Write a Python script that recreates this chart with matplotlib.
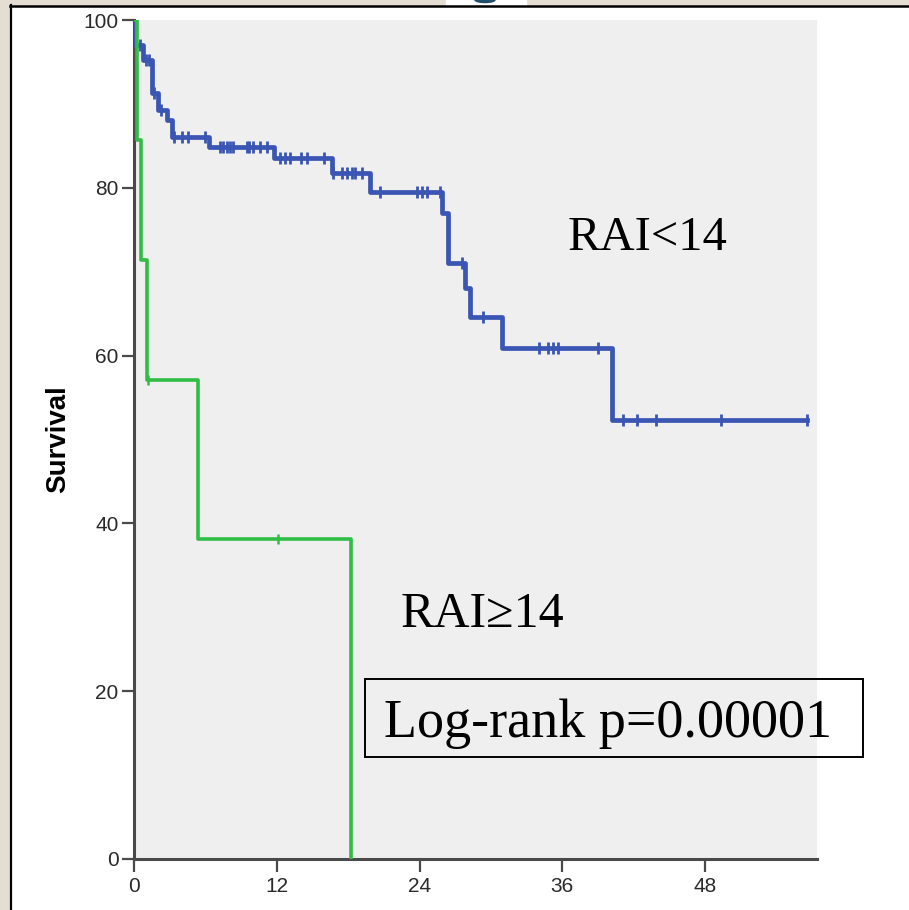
import numpy as np
import matplotlib.pyplot as plt
from matplotlib.patches import Rectangle, Ellipse

# follow-up (months) and survival (%)
low_times = [0.1, 0.75, 1.5, 2.0, 2.8, 3.2, 6.3, 11.8, 16.6, 19.8, 25.9, 26.4, 27.8, 28.2, 30.9, 40.2]
low_surv = [97.0, 95.2, 91.3, 89.3, 88.1, 86.1, 84.9, 83.5, 81.8, 79.5, 77.0, 71.0, 68.1, 64.6, 60.9, 52.3]
low_censor = [0.5, 1.0, 1.3, 1.7, 2.3, 3.4, 4.0, 4.5, 6.0, 7.2, 7.5, 7.8, 8.1, 8.3, 9.5, 9.7,
              10.0, 10.6, 11.2, 12.3, 12.7, 13.1, 14.0, 14.5, 16.0, 16.7, 17.5, 17.9, 18.3,
              18.6, 19.2, 20.7, 23.8, 24.2, 24.6, 25.7, 27.6, 29.3, 34.0, 34.8, 35.2, 35.6,
              39.0, 41.1, 42.3, 43.9, 49.3, 56.6]
low_end = 56.6

high_times = [0.25, 0.6, 1.1, 5.4, 18.2]
high_surv = [85.7, 71.4, 57.1, 38.1, 0.0]
high_censor = [1.2, 12.1]
high_end = 18.2

x_ticks = [0, 12, 24, 36, 48]
y_ticks = [0, 20, 40, 60, 80, 100]

blue = '#3a55b3'
green = '#30bd45'


def km_curve(times, surv, end):
    x = [0] + list(times) + [end]
    y = [100] + list(surv) + [surv[-1]]
    return x, y


def level_at(times, surv, t):
    i = np.searchsorted(times, t, side='right') - 1
    return 100 if i < 0 else surv[i]


fig = plt.figure(figsize=(9.09, 9.10), dpi=100)
W, H = 909, 910

# frame bits of the slide
beige = '#e4ddd2'
fig.patches.append(Rectangle((0, 0), 10 / W, 1, transform=fig.transFigure, color=beige, zorder=0))
fig.patches.append(Rectangle((0, 1 - 5 / H), 1, 5 / H, transform=fig.transFigure, color=beige, zorder=0))
fig.patches.append(Rectangle((446 / W, 1 - 5 / H), 80 / W, 5 / H, transform=fig.transFigure, color='white', zorder=1))
fig.patches.append(Ellipse((485 / W, 1), 20 / W, 5 / H, transform=fig.transFigure, color='#1f4e6b', zorder=2))
fig.lines.append(plt.Line2D([10.5 / W, 10.5 / W], [0, 1 - 5 / H], transform=fig.transFigure, color='black', lw=1.6))
fig.lines.append(plt.Line2D([10 / W, 1], [1 - 6 / H, 1 - 6 / H], transform=fig.transFigure, color='black', lw=1.8))

ax = fig.add_axes([134 / W, 51 / H, 683 / W, 839 / H])
ax.set_facecolor('#efefef')

x, y = km_curve(low_times, low_surv, low_end)
ax.step(x, y, where='post', color=blue, lw=3.4, zorder=3)
ax.plot(low_censor, [level_at(low_times, low_surv, c) for c in low_censor], ls='none',
        marker='|', ms=8, mew=2, color=blue, zorder=4)

x, y = km_curve(high_times, high_surv, high_end)
ax.step(x[:-1], y[:-1], where='post', color=green, lw=2.6, zorder=3)
ax.plot(high_censor, [level_at(high_times, high_surv, c) for c in high_censor], ls='none',
        marker='|', ms=7, mew=1.8, color=green, zorder=4)

ax.set_xlim(0, 57.4)
ax.set_ylim(0, 100)
ax.set_xticks(x_ticks)
ax.set_yticks(y_ticks)
for s in ['top', 'right']:
    ax.spines[s].set_visible(False)
for s in ['left', 'bottom']:
    ax.spines[s].set_color('#4a4a4a')
    ax.spines[s].set_linewidth(2.2)
ax.tick_params(length=9, width=1.6, color='#4a4a4a', pad=2)
ax.tick_params(axis='y', labelsize=15, labelcolor='#2a2a2a')
ax.tick_params(axis='x', labelsize=15, labelcolor='#2a2a2a', pad=4)
for lab in ax.get_xticklabels() + ax.get_yticklabels():
    lab.set_family(['Liberation Sans', 'DejaVu Sans'])

ax.set_ylabel('Survival', fontsize=20, fontweight='bold', family=['Liberation Sans', 'DejaVu Sans'])
ax.yaxis.set_label_coords(-0.092, 0.5)

serif = ['Liberation Serif', 'DejaVu Serif']
ax.text(36.4, 72.6, 'RAI<14', fontsize=35, family=serif, va='baseline', ha='left')
ax.text(22.4, 27.6, 'RAI≥14', fontsize=36, family=serif, va='baseline', ha='left')
ax.text(21.0, 14.6, 'Log-rank p=0.00001', fontsize=39, family=serif, va='baseline', ha='left',
        clip_on=False, zorder=5)
ax.add_patch(Rectangle((19.4, 12.2), 41.9, 9.2, fill=False, ec='black', lw=1.4, clip_on=False, zorder=5))

fig.savefig('out.png', dpi=100)
